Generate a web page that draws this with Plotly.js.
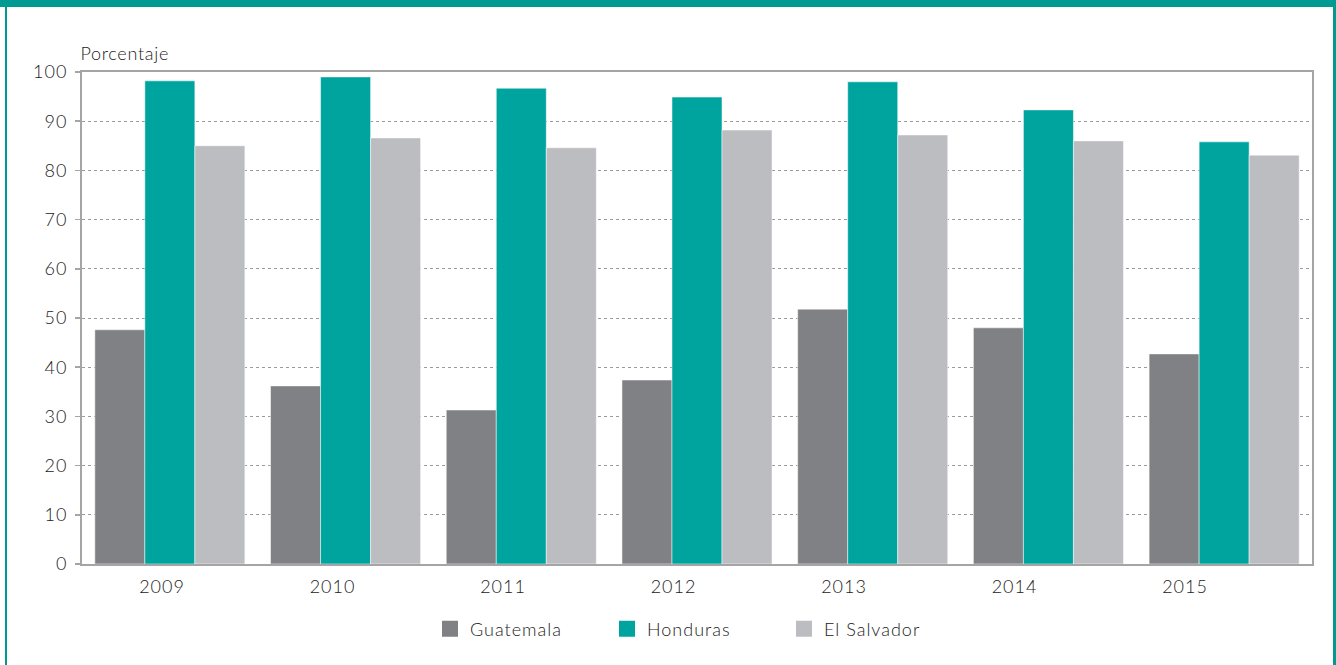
<!DOCTYPE html>
<html>
<head>
<meta charset="utf-8">
<script src="https://cdn.plot.ly/plotly-3.0.1.min.js"></script>
<style>
html,body{margin:0;padding:0;background:#fff;}
#wrap{position:relative;width:1336px;height:665px;overflow:hidden;}
#chart{position:absolute;left:0;top:0;width:1336px;height:665px;}
.fr{position:absolute;background:#009a93;pointer-events:none;}
#chart .xtick text, #chart .x2tick text, #chart .ytick text, #chart .legendtext {letter-spacing:1px;}
#chart .annotation-text {letter-spacing:0.7px;}
</style>
</head>
<body>
<div id="wrap">
<div id="chart"></div>
<div class="fr" style="left:0;top:0;width:1336px;height:7px;"></div>
<div class="fr" style="left:5px;top:0;width:2px;height:665px;"></div>
<div class="fr" style="left:1333px;top:0;width:3px;height:665px;"></div>
</div>
<script>
const years = ['2009','2010','2011','2012','2013','2014','2015'];
const seriesNames = ['Guatemala','Honduras','El Salvador'];
const guatemala = [47.6, 36.2, 31.3, 37.4, 51.8, 48.0, 42.7];
const honduras = [98.2, 99.0, 96.7, 94.9, 98.0, 92.3, 85.8];
const elSalvador = [85.0, 86.6, 84.6, 88.2, 87.2, 86.0, 83.1];
const yTicks = [0,10,20,30,40,50,60,70,80,90,100];
const colors = ['#808184','#00a49f','#bcbdc0'];

const FAM = 'Lato, "Open Sans", sans-serif';
const TXT = '#222222';
const W = 300;
function bar(name, y, color){
  return {type:'bar', name:name, x:years, y:y, showlegend:false,
    marker:{color:color, line:{color:'#ffffff', width:0.5}}, hoverinfo:'skip'};
}
function legendItem(name, color){
  return {type:'scatter', mode:'markers', name:name, x:[null], y:[null],
    marker:{symbol:'square', size:16, color:color}, hoverinfo:'skip'};
}
const values = [guatemala, honduras, elSalvador];

// In the reference the year labels sit on a slightly narrower spacing than the bar groups
const labelPos = years.map((_,i)=>i);
const lblStart = 162, lblStep = 170.5, plotL = 82, plotW = 1230;
const x2a = -(lblStart-plotL)/lblStep;
const x2range = [x2a, x2a + plotW/lblStep];

const data = seriesNames.map((n,i)=>bar(n, values[i], colors[i]))
  .concat(seriesNames.map((n,i)=>legendItem(n, colors[i])))
  .concat([{type:'scatter', mode:'markers', x:labelPos, y:labelPos.map(()=>null), xaxis:'x2', yaxis:'y',
    showlegend:false, hoverinfo:'skip', marker:{opacity:0}}]);

const layout = {
  width:1336, height:665,
  margin:{l:82, r:24, t:72, b:101},
  paper_bgcolor:'#ffffff', plot_bgcolor:'#ffffff',
  font:{family:FAM, size:18, color:TXT, weight:W},
  barmode:'group', bargap:0.146, bargroupgap:0,
  showlegend:true,
  legend:{orientation:'h', x:(430-82)/1230, xanchor:'left', y:(564-629)/492, yanchor:'middle',
    font:{family:FAM, size:18, color:TXT, weight:W}, entrywidth:132, entrywidthmode:'pixels', bgcolor:'rgba(0,0,0,0)'},
  xaxis:{type:'category', showline:true, linecolor:'#a5a5a5', linewidth:2, mirror:true,
    ticks:'', showticklabels:false, showgrid:false, zeroline:false},
  xaxis2:{overlaying:'x', anchor:'y', side:'bottom', type:'linear', range:x2range, autorange:false,
    tickmode:'array', tickvals:labelPos, ticktext:years,
    showline:false, showgrid:false, zeroline:false, ticks:'', ticklabelstandoff:10,
    tickfont:{family:FAM, size:18, color:TXT, weight:W}},
  yaxis:{range:[0,100], tickvals:yTicks, ticktext:yTicks.map(String), showline:true,
    linecolor:'#a5a5a5', linewidth:2, mirror:true, ticks:'outside', ticklen:5, tickcolor:'#a5a5a5', tickwidth:1.5,
    ticklabelstandoff:4,
    showgrid:true, gridcolor:'#9a9a9a', griddash:'3px,3px', gridwidth:1, zeroline:false,
    tickfont:{family:FAM, size:18, color:TXT, weight:W}},
  annotations:[{text:'Porcentaje', xref:'paper', yref:'paper', x:0, y:1, xanchor:'left', yanchor:'bottom',
    yshift:6, showarrow:false, font:{family:FAM, size:18, color:TXT, weight:W}}]
};
Plotly.newPlot('chart', data, layout, {displayModeBar:false, staticPlot:true});
</script>
</body>
</html>
